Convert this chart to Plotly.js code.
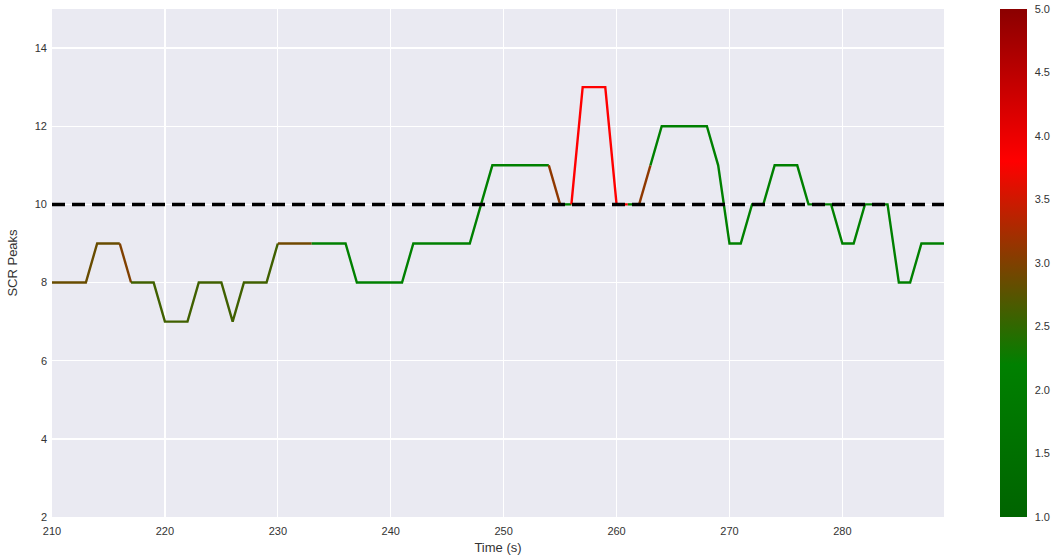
<!DOCTYPE html>
<html>
<head>
<meta charset="utf-8">
<script src="https://cdn.plot.ly/plotly-3.0.1.min.js"></script>
<style>html,body{margin:0;padding:0;background:#fff;}#chart{width:1056px;height:560px;}</style>
</head>
<body>
<div id="chart"></div>
<script>
// Time (s)
const time = [210,211,212,213,214,215,216,217,218,219,220,221,222,223,224,225,226,227,228,229,
              230,231,232,233,234,235,236,237,238,239,240,241,242,243,244,245,246,247,248,249,
              250,251,252,253,254,255,256,257,258,259,260,261,262,263,264,265,266,267,268,269,
              270,271,272,273,274,275,276,277,278,279,280,281,282,283,284,285,286,287,288,289];
// SCR peaks count
const scrPeaks = [8,8,8,8,9,9,9,8,8,8,7,7,7,8,8,8,7,8,8,8,
                  9,9,9,9,9,9,9,8,8,8,8,8,9,9,9,9,9,9,10,11,
                  11,11,11,11,11,10,10,13,13,13,10,10,10,11,12,12,12,12,12,11,
                  9,9,10,10,11,11,11,10,10,10,9,9,10,10,10,8,8,9,9,9];
// colour value of the segment starting at each point (1..5)
const level = [2.85,2.85,2.85,2.85,2.85,2.85,3.0,2.6,2.6,2.6,2.6,2.6,2.6,2.6,2.6,2.6,2.6,2.6,2.6,2.6,
               2.9,2.9,2.9,2.2,2.2,2.2,2.2,2.2,2.2,2.2,2.2,2.2,2.2,2.2,2.2,2.2,2.2,2.2,2.2,2.2,
               2.2,2.2,2.2,2.2,3.1,2.2,3.8,3.8,3.8,3.8,3.8,2.2,3.1,2.2,2.2,2.2,2.2,2.2,2.2,2.2,
               2.2,2.2,2.2,2.2,2.2,2.2,2.2,2.2,2.2,2.2,2.2,2.2,2.2,2.2,2.2,2.2,2.2,2.2,2.2,2.2];
const threshold = 10;
const cmin = 1, cmax = 5;
const colorbarTicks = [1.0,1.5,2.0,2.5,3.0,3.5,4.0,4.5,5.0];

const stops = [[0,[0,100,0]],[0.3,[0,128,0]],[0.7,[255,0,0]],[1,[139,0,0]]];
const colorscale = stops.map(s => [s[0], 'rgb(' + s[1].join(',') + ')']);
function colorFor(v){
  let t = (v - cmin) / (cmax - cmin);
  t = Math.max(0, Math.min(1, t));
  for (let i = 0; i < stops.length - 1; i++){
    const a = stops[i], b = stops[i+1];
    if (t >= a[0] && t <= b[0]){
      const f = (t - a[0]) / (b[0] - a[0]);
      const c = a[1].map((x, k) => Math.round(x + (b[1][k] - x) * f));
      return 'rgb(' + c.join(',') + ')';
    }
  }
  return 'rgb(139,0,0)';
}

const traces = [];
let start = 0;
for (let i = 1; i < time.length; i++){
  const endRun = (i === time.length - 1) || level[i] !== level[start];
  if (endRun){
    traces.push({
      x: time.slice(start, i + 1), y: scrPeaks.slice(start, i + 1),
      mode: 'lines', type: 'scatter', showlegend: false, hoverinfo: 'skip',
      line: {color: colorFor(level[start]), width: 2.4}
    });
    start = i;
  }
}
// colour bar carrier
traces.push({
  x: [time[0], time[1]], y: [scrPeaks[0], scrPeaks[1]], mode: 'markers', type: 'scatter',
  showlegend: false, hoverinfo: 'skip',
  marker: {size: 1, opacity: 0, color: [cmin, cmax], cmin: cmin, cmax: cmax,
    colorscale: colorscale, showscale: true,
    colorbar: {x: 1.0628, xanchor: 'left', y: 0.5, yanchor: 'middle', len: 1, lenmode: 'fraction',
      thickness: 27, xpad: 0, ypad: 0, outlinewidth: 0,
      tickvals: colorbarTicks, ticktext: colorbarTicks.map(v => v.toFixed(1)),
      ticks: 'outside', ticklen: 6, tickcolor: 'rgba(0,0,0,0)',
      tickfont: {size: 11, color: '#333'}}}
});
// threshold dashed line
traces.push({
  x: [time[0], time[time.length - 1]], y: [threshold, threshold], mode: 'lines', type: 'scatter',
  showlegend: false, hoverinfo: 'skip',
  line: {color: '#000', width: 3.5, dash: '13px,7px'}
});

const layout = {
  width: 1056, height: 560,
  margin: {l: 52, r: 112, t: 9, b: 43, autoexpand: false},
  paper_bgcolor: '#ffffff', plot_bgcolor: '#EAEAF2',
  font: {family: 'Liberation Sans, Arial, sans-serif', size: 11, color: '#333'},
  hovermode: false,
  xaxis: {range: [210, 289], tickvals: [210,220,230,240,250,260,270,280], showgrid: true,
    gridcolor: '#ffffff', gridwidth: 1.3, zeroline: false, showline: false, ticks: '',
    ticklabelstandoff: 6, automargin: false,
    title: {text: 'Time (s)', font: {size: 13, color: '#333'}, standoff: 6}},
  yaxis: {range: [2, 15], tickvals: [2,4,6,8,10,12,14], showgrid: true,
    gridcolor: '#ffffff', gridwidth: 1.3, zeroline: false, showline: false, ticks: '',
    ticklabelstandoff: 4, automargin: false,
    title: {text: 'SCR Peaks', font: {size: 13, color: '#333'}, standoff: 14}}
};
Plotly.newPlot('chart', traces, layout, {displayModeBar: false, staticPlot: true});
</script>
</body>
</html>
